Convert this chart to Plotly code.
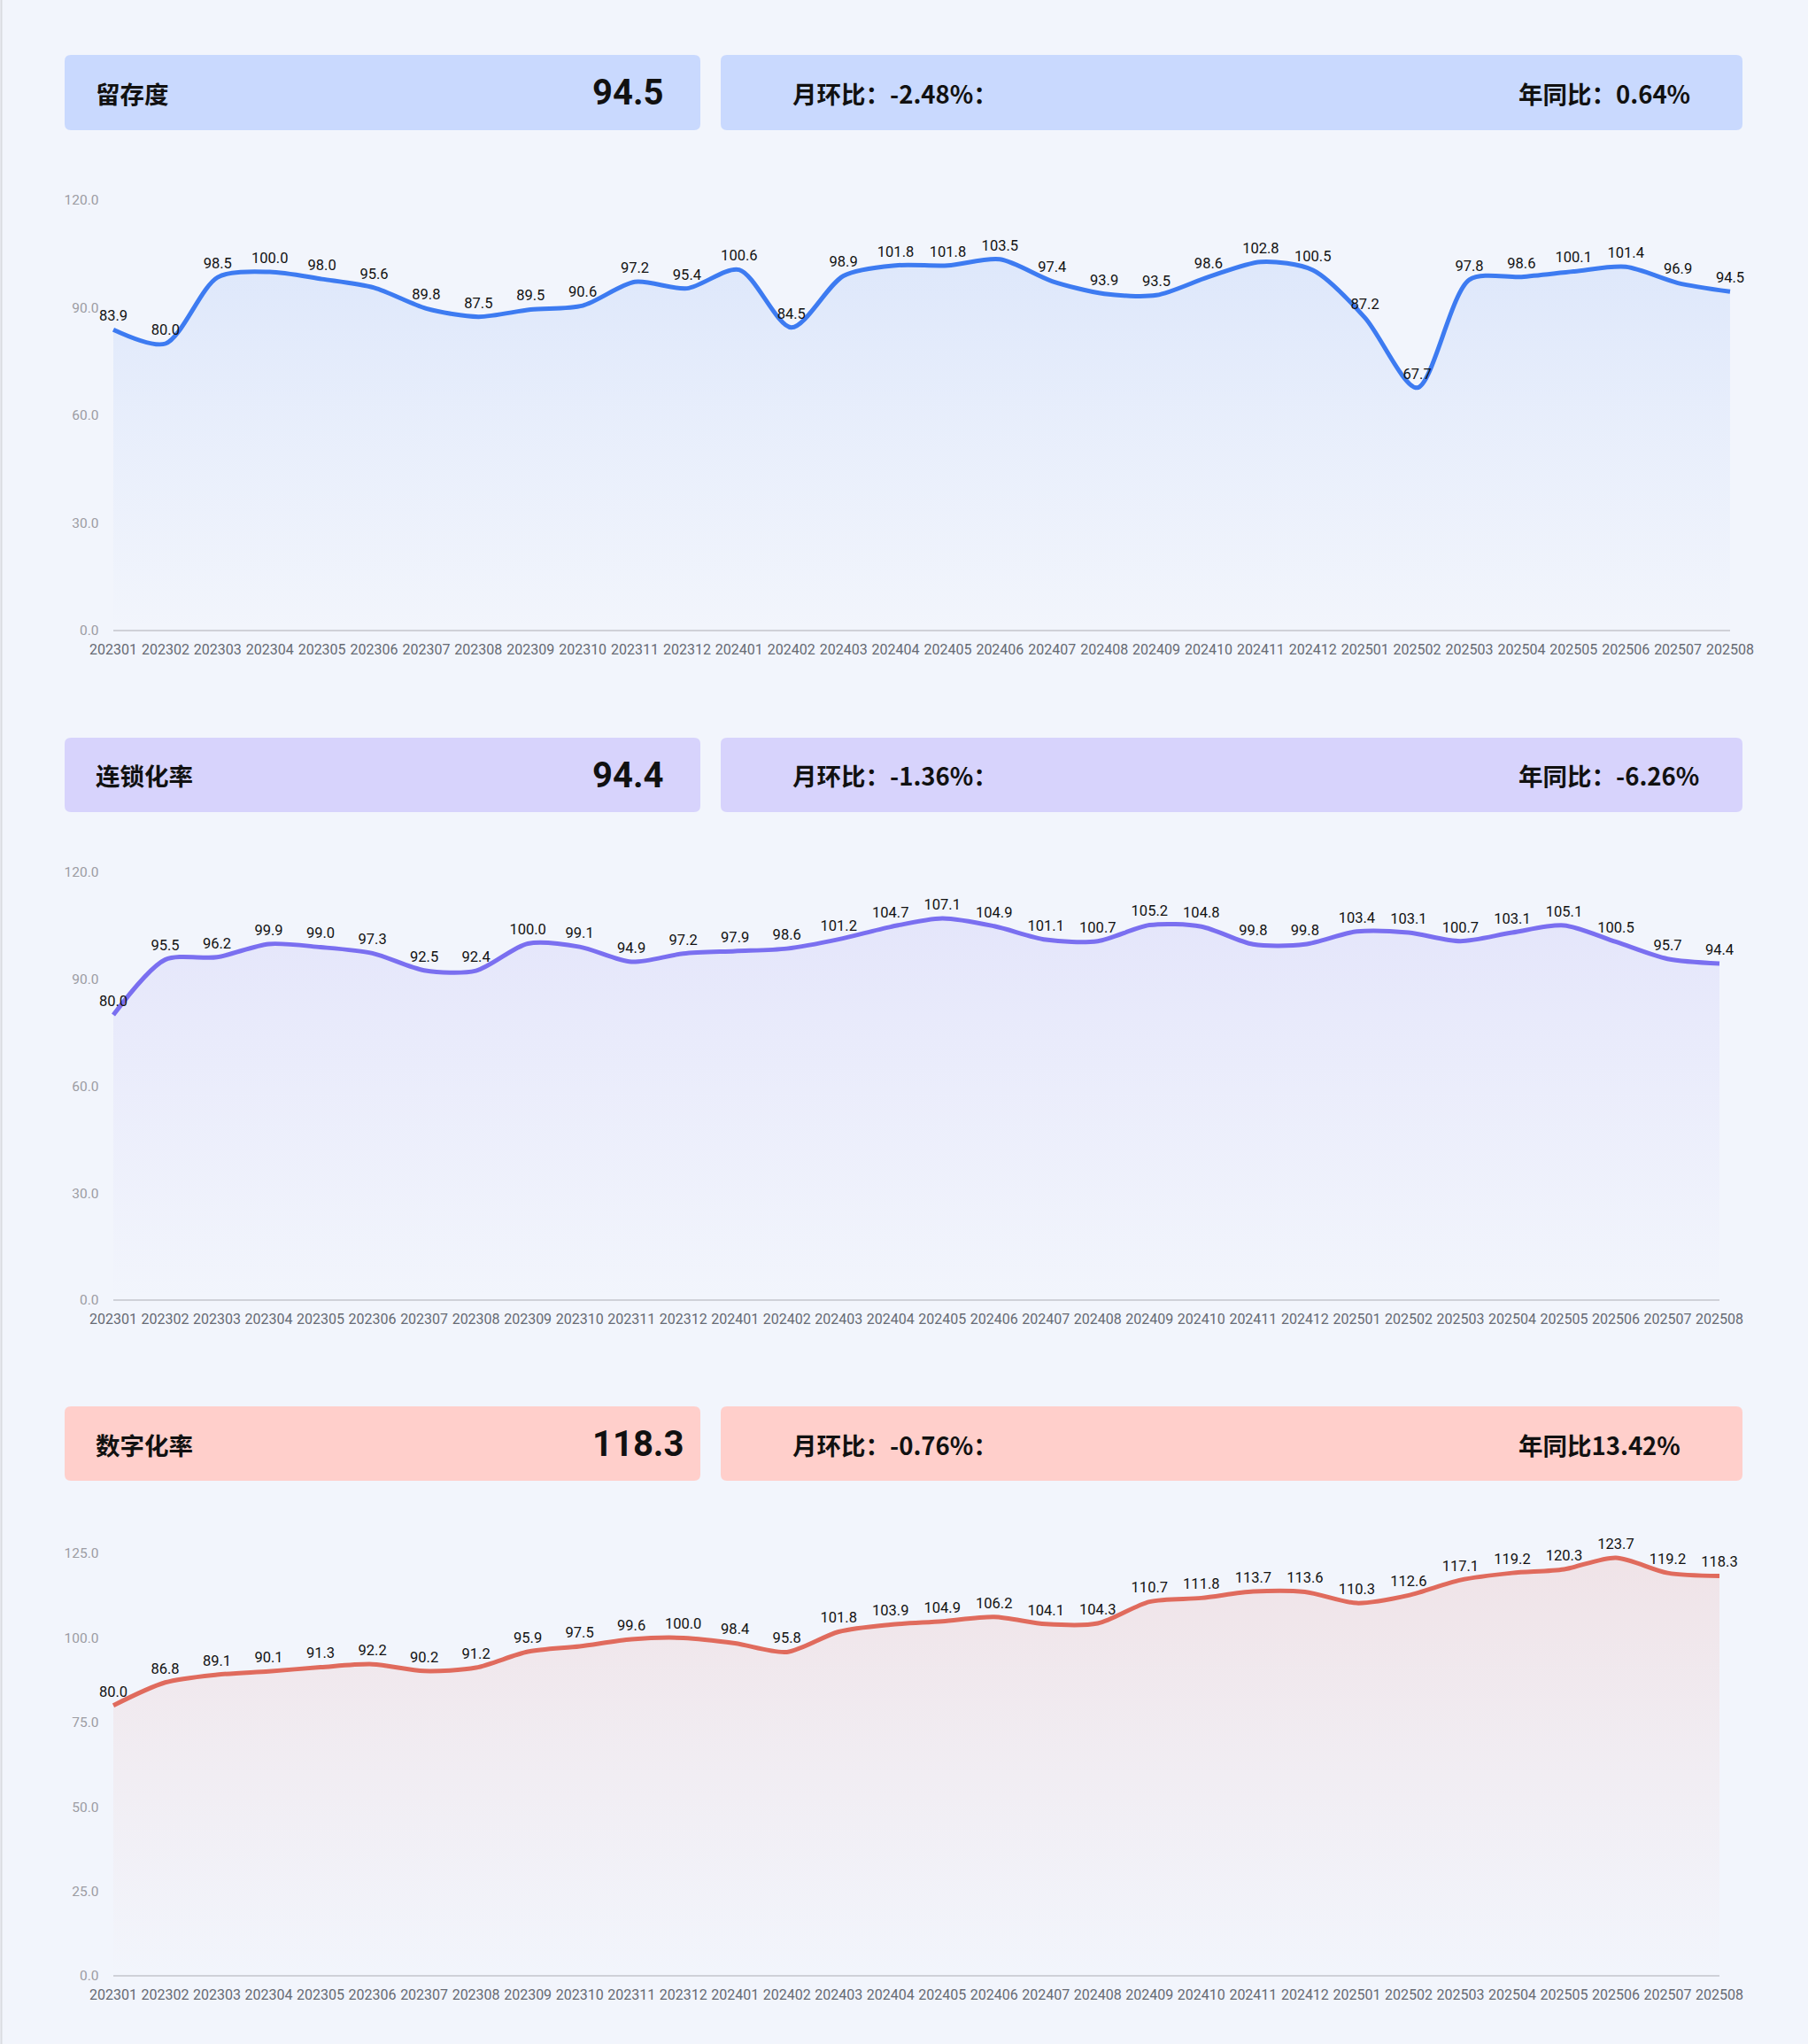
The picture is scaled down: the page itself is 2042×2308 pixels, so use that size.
import plotly.graph_objects as go

# ---------------- data ----------------
months = ["202301", "202302", "202303", "202304", "202305", "202306", "202307", "202308",
          "202309", "202310", "202311", "202312", "202401", "202402", "202403", "202404",
          "202405", "202406", "202407", "202408", "202409", "202410", "202411", "202412",
          "202501", "202502", "202503", "202504", "202505", "202506", "202507", "202508"]

retention = [83.9, 80.0, 98.5, 100.0, 98.0, 95.6, 89.8, 87.5, 89.5, 90.6, 97.2, 95.4,
             100.6, 84.5, 98.9, 101.8, 101.8, 103.5, 97.4, 93.9, 93.5, 98.6, 102.8, 100.5,
             87.2, 67.7, 97.8, 98.6, 100.1, 101.4, 96.9, 94.5]

chain_rate = [80.0, 95.5, 96.2, 99.9, 99.0, 97.3, 92.5, 92.4, 100.0, 99.1, 94.9, 97.2,
              97.9, 98.6, 101.2, 104.7, 107.1, 104.9, 101.1, 100.7, 105.2, 104.8, 99.8, 99.8,
              103.4, 103.1, 100.7, 103.1, 105.1, 100.5, 95.7, 94.4]

digital_rate = [80.0, 86.8, 89.1, 90.1, 91.3, 92.2, 90.2, 91.2, 95.9, 97.5, 99.6, 100.0,
                98.4, 95.8, 101.8, 103.9, 104.9, 106.2, 104.1, 104.3, 110.7, 111.8, 113.7, 113.6,
                110.3, 112.6, 117.1, 119.2, 120.3, 123.7, 119.2, 118.3]

titles = ["留存度", "连锁化率", "数字化率"]
current_values = ["94.5", "94.4", "118.3"]
mom_texts = ["月环比：-2.48%：", "月环比：-1.36%：", "月环比：-0.76%："]
yoy_texts = ["年同比：0.64%", "年同比：-6.26%", "年同比13.42%"]
y_ticks_a = [0, 30, 60, 90, 120]
y_ticks_b = [0, 25, 50, 75, 100, 125]

series = [retention, chain_rate, digital_rate]
tick_sets = [y_ticks_a, y_ticks_a, y_ticks_b]

# ---------------- styling / layout ----------------
W, H = 2042, 2308
BG = "#f2f5fc"
line_colors = ["#3d7bf1", "#7a6ff0", "#e06b5d"]
fill_rgb = ["61,123,241", "122,111,240", "224,107,93"]
box_colors = ["#c9d9fe", "#d7d3fc", "#ffcfcb"]

# pixel layout for each panel: (box_top, box_bottom, y_zero_px, y_top_px, x_right_px)
panels = [
    (62, 147, 712, 226, 1954),
    (833, 917, 1468, 985, 1942),
    (1588, 1672, 2231, 1754, 1942),
]
X_LEFT = 128


def fx(px):
    return px / W


def fy(py):
    return 1 - py / H


def rounded_rect(x0, y0, x1, y1, r=7):
    rx, ry = r / W, r / H
    X0, X1 = fx(x0), fx(x1)
    Y0, Y1 = fy(y1), fy(y0)
    return (f"M {X0+rx},{Y0} L {X1-rx},{Y0} Q {X1},{Y0} {X1},{Y0+ry} "
            f"L {X1},{Y1-ry} Q {X1},{Y1} {X1-rx},{Y1} L {X0+rx},{Y1} "
            f"Q {X0},{Y1} {X0},{Y1-ry} L {X0},{Y0+ry} Q {X0},{Y0} {X0+rx},{Y0} Z")


fig = go.Figure()
shapes = []
annotations = []

for i, (vals, ticks) in enumerate(zip(series, tick_sets)):
    box_top, box_bot, y0px, ytpx, xr = panels[i]
    ymax = ticks[-1]
    ax = "" if i == 0 else str(i + 1)
    xa, ya = "x" + ax, "y" + ax

    pad_cat = 0.06
    span = xr - X_LEFT
    pad_px = span / (len(months) - 1) * pad_cat
    ppu = (y0px - ytpx) / ymax
    pad_y = 6 / ppu

    fig.add_trace(go.Scatter(
        x=months, y=vals, xaxis=xa, yaxis=ya,
        mode="lines+markers+text",
        line=dict(color=line_colors[i], width=5, shape="spline", smoothing=0.8),
        marker=dict(size=8, color="rgba(0,0,0,0)", line=dict(width=0)),
        fill="tozeroy",
        fillgradient=dict(type="vertical", start=0, stop=ymax,
                          colorscale=[[0, f"rgba({fill_rgb[i]},0.0)"],
                                      [0.5, f"rgba({fill_rgb[i]},0.06)"],
                                      [1, f"rgba({fill_rgb[i]},0.13)"]]),
        text=[f"{v:.1f}" for v in vals],
        textposition="top center",
        textfont=dict(family="Roboto, Noto Sans, sans-serif", size=16.5, color="#111111"),
        cliponaxis=False,
        hoverinfo="x+y",
        showlegend=False,
    ))

    fig.layout["xaxis" + ax] = dict(
        domain=[fx(X_LEFT - pad_px), fx(xr + pad_px)],
        anchor=ya, type="category",
        range=[-pad_cat, len(months) - 1 + pad_cat],
        tickmode="linear", dtick=1, tickangle=0,
        showgrid=False, zeroline=False, showline=False, ticks="",
        tickfont=dict(family="Roboto, sans-serif", size=16, color="#666a73"),
        ticklabelstandoff=4,
        automargin=False,
        fixedrange=True,
    )
    fig.layout["yaxis" + ax] = dict(
        domain=[fy(y0px) - pad_y * ppu / H, fy(ytpx)],
        anchor=xa,
        range=[-pad_y, ymax],
        tickmode="array", tickvals=ticks, ticktext=[f"{t:.1f}" for t in ticks],
        showgrid=False, zeroline=False, showline=False, ticks="",
        tickfont=dict(family="Roboto, sans-serif", size=15.5, color="#9c9ca3"),
        ticklabelstandoff=12,
        automargin=False,
        fixedrange=True,
    )

    shapes.append(dict(type="line", xref="paper", yref="paper",
                       x0=fx(X_LEFT), x1=fx(xr), y0=fy(y0px), y1=fy(y0px),
                       line=dict(color="#cfd1d8", width=2), layer="below"))

    shapes.append(dict(type="path", xref="paper", yref="paper",
                       path=rounded_rect(73, box_top, 791, box_bot),
                       fillcolor=box_colors[i], line=dict(width=0), layer="below"))
    shapes.append(dict(type="path", xref="paper", yref="paper",
                       path=rounded_rect(814, box_top, 1968, box_bot),
                       fillcolor=box_colors[i], line=dict(width=0), layer="below"))

    yc = fy((box_top + box_bot) / 2 + 0.5)
    hfont = dict(family="Noto Sans CJK SC, sans-serif", size=27.5, color="#111111")
    annotations += [
        dict(text=f"<b>{titles[i]}</b>", x=fx(106), y=yc, xref="paper", yref="paper",
             xanchor="left", yanchor="middle", showarrow=False, font=hfont),
        dict(text=f"<b>{current_values[i]}</b>", x=fx(667), y=yc, xref="paper", yref="paper",
             xanchor="left", yanchor="middle", showarrow=False,
             font=dict(family="Roboto, sans-serif", size=40, color="#111111")),
        dict(text=f"<b>{mom_texts[i]}</b>", x=fx(893), y=yc, xref="paper", yref="paper",
             xanchor="left", yanchor="middle", showarrow=False, font=hfont),
        dict(text=f"<b>{yoy_texts[i]}</b>", x=fx(1713), y=yc, xref="paper", yref="paper",
             xanchor="left", yanchor="middle", showarrow=False, font=hfont),
    ]

shapes.append(dict(type="line", xref="paper", yref="paper", x0=fx(1.5), x1=fx(1.5), y0=0, y1=1,
                   line=dict(color="#d9dbe0", width=2), layer="below"))

fig.update_layout(
    width=W, height=H, autosize=False,
    margin=dict(l=0, r=0, t=0, b=0, pad=0, autoexpand=False),
    paper_bgcolor=BG, plot_bgcolor="rgba(0,0,0,0)",
    shapes=shapes, annotations=annotations,
    showlegend=False,
    font=dict(family="Roboto, Noto Sans CJK SC, sans-serif"),
)

fig.write_html("out.html", config={"displayModeBar": False, "responsive": False})
